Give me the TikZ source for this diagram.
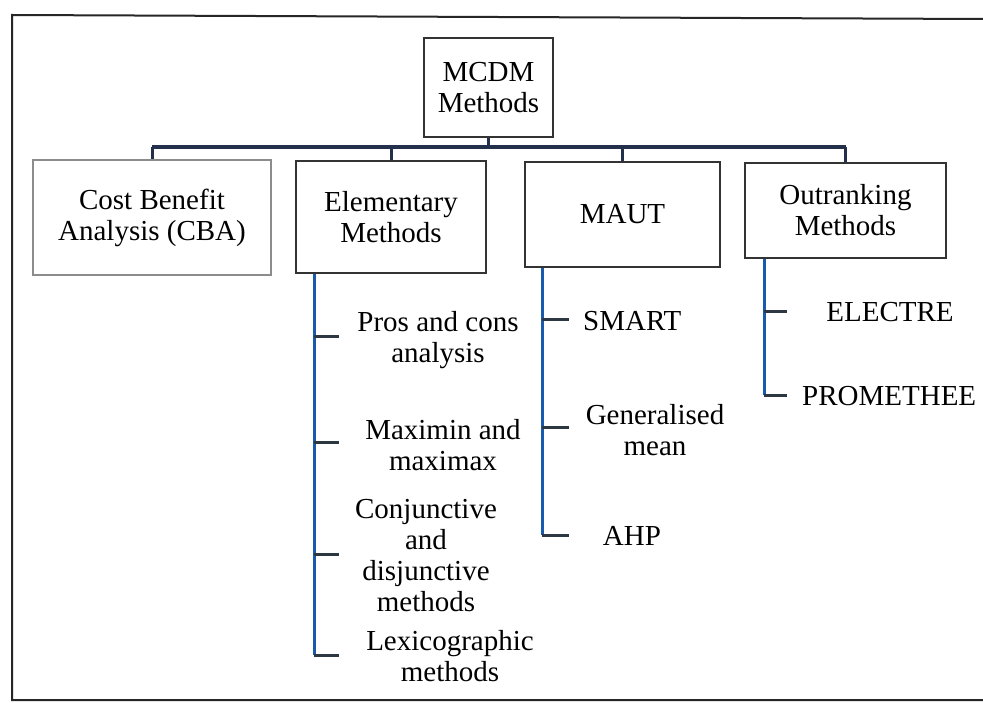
\documentclass[tikz,border=0pt]{standalone}
\usepackage{fontspec}
\setmainfont{Liberation Serif}
\usetikzlibrary{calc}
\definecolor{busnavy}{RGB}{35,48,75}
\definecolor{spineblue}{RGB}{26,90,172}
\definecolor{tickgray}{RGB}{45,55,65}
\tikzset{
  box/.style={draw=black!80, line width=1.3pt, align=center, inner sep=0pt,
              font=\fontsize{29}{31}\selectfont},
  leaf/.style={align=center, inner sep=0pt, font=\fontsize{29}{31}\selectfont},
  bus/.style={draw=busnavy, line width=4.5pt},
  drop/.style={draw=busnavy, line width=3pt},
  spine/.style={draw=spineblue, line width=3pt},
  tick/.style={draw=tickgray, line width=3pt},
  frame/.style={draw=black!85, line width=2pt}
}
\begin{document}
\begin{tikzpicture}[x=1pt,y=-1pt]
\useasboundingbox (0,0) rectangle (983,703);
\fill[white] (0,0) rectangle (983,703);

% outer frame
\draw[frame] (983,19) -- (12,15) -- (12,700) -- (983,700);

% top node and the four families
\node[box, minimum width=129pt, minimum height=99pt] (mcdm) at (488.5,87.5) {MCDM\\Methods};
\node[box, draw=black!45, minimum width=238pt, minimum height=115pt] (cba) at (152,217.5) {Cost Benefit\\Analysis (CBA)};
\node[box, minimum width=190pt, minimum height=112pt] (elem) at (391,217) {Elementary\\Methods};
\node[box, minimum width=195pt, minimum height=105pt] (maut) at (622.5,214.5) {MAUT};
\node[box, minimum width=201pt, minimum height=95pt] (outr) at (845.5,210.5) {Outranking\\Methods};

% bus linking the top node to the families
\coordinate (bus) at (488.5,147);
\draw[drop] (mcdm.south) -- (bus);
\draw[bus] (cba.north |- bus) -- (outr.north |- bus);
\draw[drop] (cba.north |- bus) -- (cba.north);
\draw[drop] (elem.north |- bus) -- (elem.north);
\draw[drop] (maut.north |- bus) -- (maut.north);
\draw[drop] (outr.north |- bus) -- (outr.north);

% elementary methods
\node[leaf] (pros) at (438,340) {Pros and cons\\analysis};
\node[leaf] (maxi) at (443,445) {Maximin and\\maximax};
\node[leaf] (conj) at (426,556) {Conjunctive\\and\\disjunctive\\methods};
\node[leaf] (lexi) at (450,656) {Lexicographic\\methods};
\coordinate (es) at ($(elem.south west)+(19,0)$);
\coordinate (e1) at (es |- 0,337);
\coordinate (e2) at (es |- 0,442);
\coordinate (e3) at (es |- 0,554);
\coordinate (e4) at (es |- 0,655);
\draw[spine] (es) -- (e4);
\foreach \c in {e1,e2,e3,e4} \draw[tick] (\c) -- ++(25,0);

% MAUT methods
\node[leaf, anchor=west] (smart) at (583,321) {SMART};
\node[leaf] (gen) at (655,430) {Generalised\\mean};
\node[leaf] (ahp) at (632,536) {AHP};
\coordinate (ms) at ($(maut.south west)+(18,0)$);
\coordinate (m1) at (ms |- 0,320);
\coordinate (m2) at (ms |- 0,427);
\coordinate (m3) at (ms |- 0,535);
\draw[spine] (ms) -- (m3);
\foreach \c in {m1,m2,m3} \draw[tick] (\c) -- ++(27,0);

% outranking methods
\node[leaf] (elec) at (890,312) {ELECTRE};
\node[leaf, anchor=west] (prom) at (802,396) {PROMETHEE};
\coordinate (os) at ($(outr.south west)+(20,0)$);
\coordinate (o1) at (os |- 0,312);
\coordinate (o2) at (os |- 0,395);
\draw[spine] (os) -- (o2);
\foreach \c in {o1,o2} \draw[tick] (\c) -- ++(23,0);
\end{tikzpicture}
\end{document}
